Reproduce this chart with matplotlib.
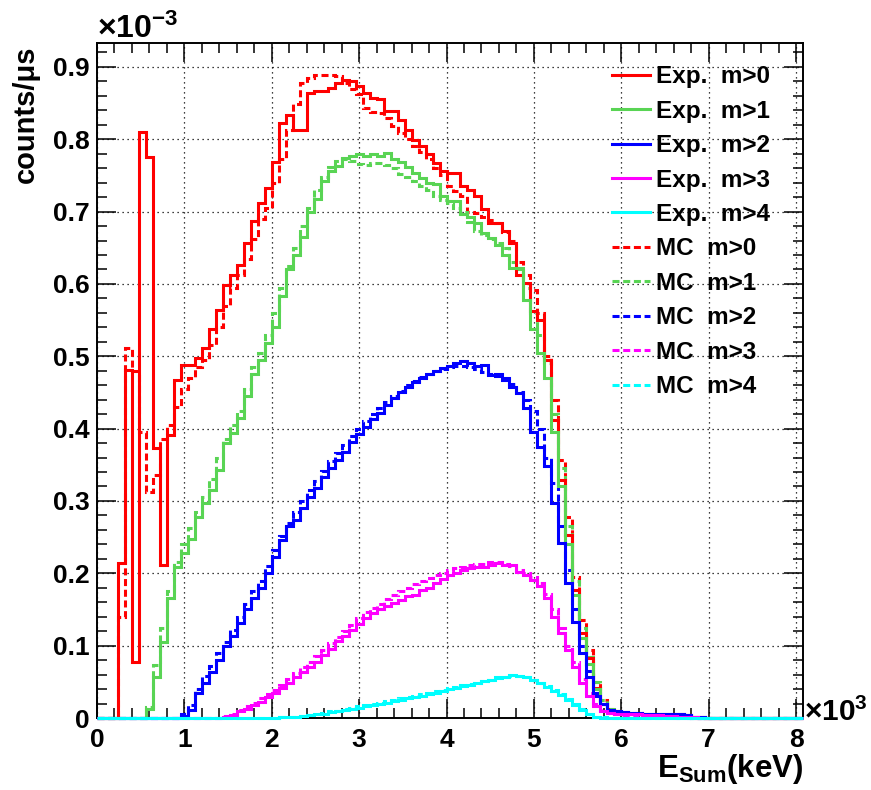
# -*- coding: utf-8 -*-
"""
Summed-energy spectra per multiplicity cut, experiment vs MC (ROOT-like look)
"""

# %% Setup

import numpy as np
import matplotlib
matplotlib.use('Agg')
import matplotlib.pyplot as plt
from matplotlib.lines import Line2D
from matplotlib.ticker import MultipleLocator

plt.rcParams['font.family'] = 'Liberation Sans'
plt.rcParams['font.weight'] = 'bold'
plt.rcParams['mathtext.fontset'] = 'custom'
plt.rcParams['mathtext.rm'] = 'Liberation Sans:bold'
plt.rcParams['mathtext.bf'] = 'Liberation Sans:bold'
plt.rcParams['mathtext.it'] = 'Liberation Sans:bold:italic'

# %% Data (counts/us in units of 1e-3, one value per 80 keV bin from 0 keV)

bin_width = 80
n_bins = 101

exp_m0 = [0, 0, 0, 0.214, 0.481, 0.078, 0.810, 0.776, 0.373, 0.212,
          0.391, 0.467, 0.488, 0.488, 0.498, 0.512, 0.537, 0.564, 0.599, 0.613,
          0.626, 0.657, 0.687, 0.712, 0.733, 0.769, 0.822, 0.834, 0.813, 0.813,
          0.864, 0.866, 0.866, 0.871, 0.878, 0.882, 0.880, 0.874, 0.864, 0.857,
          0.855, 0.839, 0.839, 0.827, 0.813, 0.799, 0.790, 0.779, 0.767, 0.756,
          0.753, 0.753, 0.735, 0.730, 0.721, 0.703, 0.684, 0.684, 0.673, 0.657,
          0.613, 0.601, 0.562, 0.550, 0.495, 0.412, 0.329, 0.253, 0.177, 0.118,
          0.083, 0.042, 0.020, 0.010, 0.009, 0.008, 0.007, 0.007, 0.006, 0.006,
          0.006, 0.005, 0.005, 0.005, 0.004, 0.002, 0.001]
exp_m1 = [0, 0, 0, 0, 0, 0, 0, 0.012, 0.057, 0.105,
          0.166, 0.209, 0.228, 0.248, 0.278, 0.297, 0.315, 0.343, 0.380, 0.394,
          0.414, 0.445, 0.475, 0.495, 0.519, 0.541, 0.583, 0.620, 0.640, 0.665,
          0.700, 0.718, 0.742, 0.756, 0.763, 0.774, 0.777, 0.779, 0.777, 0.779,
          0.777, 0.781, 0.772, 0.768, 0.762, 0.754, 0.747, 0.740, 0.738, 0.721,
          0.714, 0.714, 0.696, 0.692, 0.684, 0.670, 0.663, 0.654, 0.640, 0.622,
          0.622, 0.578, 0.537, 0.505, 0.470, 0.396, 0.320, 0.240, 0.170, 0.110,
          0.075, 0.040, 0.020, 0.010, 0.009, 0.008, 0.007, 0.007, 0.006, 0.006,
          0.006, 0.005, 0.005, 0.005, 0.004, 0.002, 0.001]
exp_m2 = [0, 0, 0, 0, 0, 0, 0, 0, 0, 0,
          0, 0, 0.003, 0.011, 0.034, 0.048, 0.064, 0.080, 0.099, 0.114,
          0.131, 0.150, 0.166, 0.180, 0.200, 0.223, 0.246, 0.265, 0.274, 0.290,
          0.305, 0.318, 0.333, 0.345, 0.357, 0.368, 0.382, 0.392, 0.402, 0.413,
          0.422, 0.432, 0.442, 0.450, 0.458, 0.465, 0.470, 0.476, 0.480, 0.484,
          0.486, 0.490, 0.494, 0.490, 0.486, 0.488, 0.474, 0.476, 0.467, 0.458,
          0.449, 0.428, 0.396, 0.375, 0.348, 0.297, 0.242, 0.187, 0.133, 0.090,
          0.057, 0.030, 0.020, 0.011, 0.009, 0.008, 0.007, 0.007, 0.006, 0.006,
          0.006, 0.005, 0.005, 0.005, 0.004, 0.002, 0.001]
exp_m3 = [0, 0, 0, 0, 0, 0, 0, 0, 0, 0,
          0, 0, 0, 0, 0, 0, 0, 0, 0.002, 0.004,
          0.009, 0.013, 0.018, 0.022, 0.029, 0.034, 0.041, 0.048, 0.057, 0.064,
          0.071, 0.078, 0.087, 0.096, 0.106, 0.113, 0.122, 0.130, 0.138, 0.145,
          0.150, 0.155, 0.159, 0.163, 0.168, 0.170, 0.177, 0.180, 0.186, 0.192,
          0.197, 0.200, 0.205, 0.208, 0.209, 0.209, 0.212, 0.214, 0.211, 0.212,
          0.202, 0.198, 0.191, 0.182, 0.166, 0.140, 0.117, 0.094, 0.071, 0.048,
          0.030, 0.016, 0.010, 0.007, 0.006, 0.005, 0.005, 0.005, 0.004, 0.004,
          0.004, 0.003, 0.003, 0.002, 0.002, 0.001]
exp_m4 = [0, 0, 0, 0, 0, 0, 0, 0, 0, 0,
          0, 0, 0, 0, 0, 0, 0, 0, 0, 0,
          0, 0, 0, 0, 0, 0, 0.001, 0.001, 0.002, 0.003,
          0.004, 0.005, 0.006, 0.008, 0.009, 0.011, 0.013, 0.014, 0.016, 0.018,
          0.020, 0.021, 0.023, 0.025, 0.027, 0.029, 0.031, 0.033, 0.035, 0.037,
          0.040, 0.042, 0.044, 0.046, 0.049, 0.051, 0.053, 0.056, 0.057, 0.059,
          0.058, 0.057, 0.053, 0.048, 0.043, 0.038, 0.032, 0.025, 0.018, 0.011,
          0.005, 0.002]

mc_m0 = [0, 0, 0, 0.140, 0.512, 0.480, 0.396, 0.313, 0.336, 0.385,
         0.405, 0.430, 0.455, 0.470, 0.485, 0.495, 0.515, 0.540, 0.570, 0.595,
         0.612, 0.635, 0.662, 0.690, 0.705, 0.740, 0.772, 0.813, 0.848, 0.878,
         0.885, 0.889, 0.889, 0.889, 0.887, 0.878, 0.870, 0.862, 0.843, 0.838,
         0.836, 0.830, 0.818, 0.808, 0.800, 0.790, 0.782, 0.772, 0.760, 0.750,
         0.735, 0.728, 0.721, 0.700, 0.698, 0.692, 0.688, 0.684, 0.672, 0.660,
         0.630, 0.612, 0.592, 0.560, 0.500, 0.440, 0.357, 0.278, 0.195, 0.135,
         0.094, 0.050, 0.025, 0.012, 0.008, 0.006, 0.005, 0.005, 0.004, 0.004,
         0.003, 0.003, 0.002, 0.002, 0.001]
mc_m1 = [0, 0, 0, 0, 0, 0, 0, 0.015, 0.073, 0.125,
         0.175, 0.215, 0.240, 0.262, 0.285, 0.305, 0.330, 0.360, 0.385, 0.405,
         0.425, 0.455, 0.485, 0.505, 0.530, 0.560, 0.595, 0.625, 0.650, 0.680,
         0.705, 0.730, 0.748, 0.762, 0.770, 0.772, 0.770, 0.766, 0.765, 0.767,
         0.767, 0.765, 0.760, 0.752, 0.748, 0.742, 0.736, 0.730, 0.722, 0.716,
         0.712, 0.705, 0.700, 0.685, 0.673, 0.668, 0.662, 0.657, 0.650, 0.630,
         0.620, 0.595, 0.560, 0.530, 0.490, 0.420, 0.345, 0.265, 0.190, 0.125,
         0.085, 0.050, 0.025, 0.012, 0.008, 0.006, 0.005, 0.005, 0.004, 0.004,
         0.003, 0.003, 0.002, 0.002, 0.001]
mc_m2 = [0, 0, 0, 0, 0, 0, 0, 0, 0, 0,
         0, 0, 0.005, 0.018, 0.040, 0.058, 0.072, 0.090, 0.105, 0.122,
         0.140, 0.158, 0.175, 0.190, 0.210, 0.232, 0.252, 0.270, 0.285, 0.300,
         0.315, 0.328, 0.342, 0.355, 0.366, 0.378, 0.390, 0.400, 0.410, 0.420,
         0.428, 0.437, 0.445, 0.452, 0.460, 0.466, 0.472, 0.476, 0.480, 0.483,
         0.485, 0.486, 0.487, 0.485, 0.482, 0.478, 0.475, 0.473, 0.470, 0.462,
         0.450, 0.440, 0.425, 0.400, 0.360, 0.325, 0.265, 0.205, 0.150, 0.100,
         0.065, 0.035, 0.020, 0.011, 0.008, 0.006, 0.005, 0.005, 0.004, 0.004,
         0.003, 0.003, 0.002, 0.002, 0.001]
mc_m3 = [0, 0, 0, 0, 0, 0, 0, 0, 0, 0,
         0, 0, 0, 0, 0, 0, 0, 0, 0.003, 0.006,
         0.011, 0.016, 0.021, 0.027, 0.033, 0.039, 0.046, 0.054, 0.062, 0.070,
         0.078, 0.086, 0.094, 0.103, 0.112, 0.120, 0.129, 0.138, 0.146, 0.152,
         0.158, 0.165, 0.170, 0.175, 0.180, 0.185, 0.189, 0.193, 0.197, 0.201,
         0.204, 0.207, 0.209, 0.211, 0.213, 0.213, 0.215, 0.216, 0.213, 0.210,
         0.205, 0.200, 0.195, 0.186, 0.172, 0.150, 0.125, 0.100, 0.078, 0.054,
         0.035, 0.020, 0.011, 0.007, 0.005, 0.004, 0.004, 0.003, 0.003, 0.002,
         0.002, 0.001]
mc_m4 = [0, 0, 0, 0, 0, 0, 0, 0, 0, 0,
         0, 0, 0, 0, 0, 0, 0, 0, 0, 0,
         0, 0, 0, 0, 0, 0, 0.001, 0.002, 0.002, 0.003,
         0.004, 0.006, 0.007, 0.009, 0.010, 0.012, 0.014, 0.016, 0.018, 0.019,
         0.021, 0.023, 0.025, 0.027, 0.029, 0.031, 0.033, 0.035, 0.037, 0.039,
         0.041, 0.043, 0.045, 0.047, 0.049, 0.051, 0.053, 0.055, 0.057, 0.058,
         0.058, 0.056, 0.053, 0.049, 0.044, 0.039, 0.033, 0.026, 0.019, 0.012,
         0.006, 0.002, 0.001]

exp_labels = ['Exp.  m>0', 'Exp.  m>1', 'Exp.  m>2', 'Exp.  m>3', 'Exp.  m>4']
mc_labels = ['MC  m>0', 'MC  m>1', 'MC  m>2', 'MC  m>3', 'MC  m>4']
colors = ['#ff0000', '#59d454', '#0000ff', '#ff00ff', '#00ffff']

x_ticks = [0, 1000, 2000, 3000, 4000, 5000, 6000, 7000, 8000]
x_ticklabels = ['0', '1', '2', '3', '4', '5', '6', '7', '8']
y_ticks = [0, 0.1, 0.2, 0.3, 0.4, 0.5, 0.6, 0.7, 0.8, 0.9]
y_ticklabels = ['0', '0.1', '0.2', '0.3', '0.4', '0.5', '0.6', '0.7', '0.8', '0.9']

# %% Plot

edges = np.arange(n_bins + 1) * bin_width


def full(vals):
    # empty bins above the last listed one
    return np.pad(np.asarray(vals, dtype=float), (0, n_bins - len(vals)))


dash = (0, (2.3, 1.2))
lw = 2.2

fig = plt.figure(figsize=(8.71, 7.9), dpi=100)
ax = fig.add_axes([97 / 871, 72 / 790, 706 / 871, 675 / 790])

for vals, c in zip([mc_m0, mc_m1, mc_m2, mc_m3, mc_m4], colors):
    ax.stairs(full(vals), edges, color=c, lw=lw, linestyle=dash, clip_on=False)
for vals, c in zip([exp_m0, exp_m1, exp_m2, exp_m3, exp_m4], colors):
    ax.stairs(full(vals), edges, color=c, lw=lw, clip_on=False, zorder=3)

ax.set_xlim(0, edges[-1])
ax.set_ylim(0, 0.933)
ax.set_xticks(x_ticks)
ax.set_xticklabels(x_ticklabels)
ax.set_yticks(y_ticks)
ax.set_yticklabels(y_ticklabels)
ax.xaxis.set_minor_locator(MultipleLocator(200))
ax.yaxis.set_minor_locator(MultipleLocator(0.02))
ax.tick_params(which='both', direction='in', top=True, right=True,
               width=1.1, labelsize=19)
ax.tick_params(which='major', length=14)
ax.tick_params(which='minor', length=7)
ax.tick_params(axis='x', pad=7)
ax.tick_params(axis='y', pad=5)
for sp in ax.spines.values():
    sp.set_linewidth(1.4)
ax.grid(True, which='major', color='black', linestyle=(0, (1, 3)), linewidth=0.9)
ax.set_axisbelow(True)

ax.set_ylabel('counts/\u03bcs', loc='top', fontsize=21, fontweight='bold')
ax.yaxis.set_label_coords(-0.081, 0.997)
ax.set_xlabel(r'$\mathbf{E_{Sum}(keV)}$', loc='right', fontsize=22.5)
ax.xaxis.set_label_coords(1.0, -0.05)

ax.text(0.0, 0.997, r'$\mathbf{\times10^{-3}}$', transform=ax.transAxes,
        fontsize=23, ha='left', va='bottom')
ax.text(1.002, -0.004, r'$\mathbf{\times10^{3}}$', transform=ax.transAxes,
        fontsize=21.5, ha='left', va='baseline')

handles = [Line2D([], [], color=c, lw=lw) for c in colors]
handles += [Line2D([], [], color=c, lw=lw, linestyle=dash) for c in colors]
ax.legend(handles, exp_labels + mc_labels, loc='upper left',
          bbox_to_anchor=(0.7295, 0.967), frameon=False, fontsize=17.5,
          handlelength=1.55, handletextpad=0.25, labelspacing=0.47,
          borderpad=0, borderaxespad=0)

fig.savefig('out.png', dpi=100)
